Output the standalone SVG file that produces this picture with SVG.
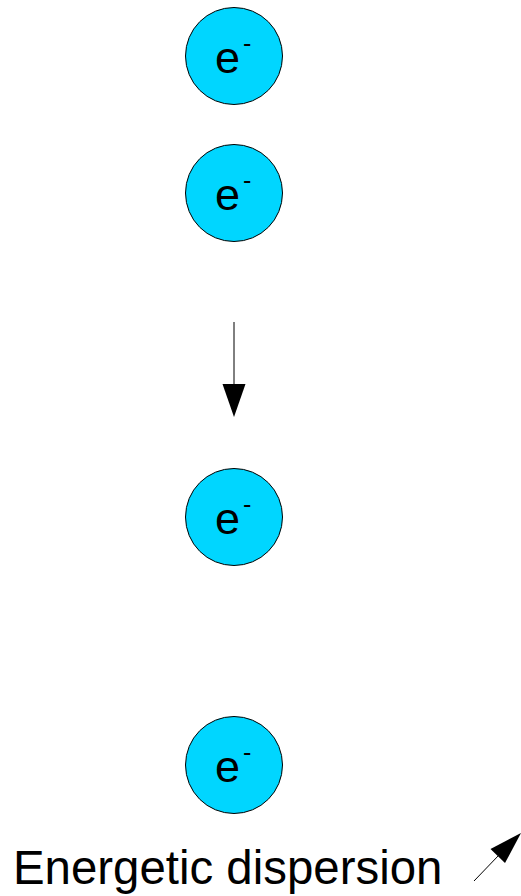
<svg xmlns="http://www.w3.org/2000/svg" width="521" height="896" viewBox="0 0 521 896">
<style>
.el circle{fill:#00d6ff;stroke:#000;stroke-width:1}
.lbl{font-family:"Liberation Sans",Arial,sans-serif;font-size:45px;fill:#000}
.sup{font-family:"Liberation Sans",Arial,sans-serif;font-size:25px;fill:#000}
.cap{font-family:"Liberation Sans",Arial,sans-serif;font-size:47.4px;fill:#000}
.ln{stroke:#000;stroke-width:1;fill:none}
</style>
<rect width="521" height="896" fill="#fff"/>
<g id="e1" class="el"><circle cx="234" cy="56" r="48.5"/><text class="lbl" x="215" y="73">e</text><text class="sup" x="243" y="52">-</text></g>
<g id="e2" class="el"><circle cx="234" cy="193" r="48.5"/><text class="lbl" x="215" y="210">e</text><text class="sup" x="243" y="189">-</text></g>
<g id="e3" class="el"><circle cx="234" cy="517" r="48.5"/><text class="lbl" x="215" y="534">e</text><text class="sup" x="243" y="513">-</text></g>
<g id="e4" class="el"><circle cx="234" cy="765" r="48.5"/><text class="lbl" x="215" y="782">e</text><text class="sup" x="243" y="761">-</text></g>
<g id="connectors">
<line class="ln" x1="234" y1="322" x2="234" y2="385"/>
<polygon points="222.5,384 245.5,384 234,417" fill="#000"/>
<line class="ln" x1="474" y1="881" x2="499" y2="855"/>
<polygon points="490.5,849 521,833 505,863" fill="#000"/>
</g>
<text class="cap" x="13" y="884">Energetic dispersion</text>
</svg>
